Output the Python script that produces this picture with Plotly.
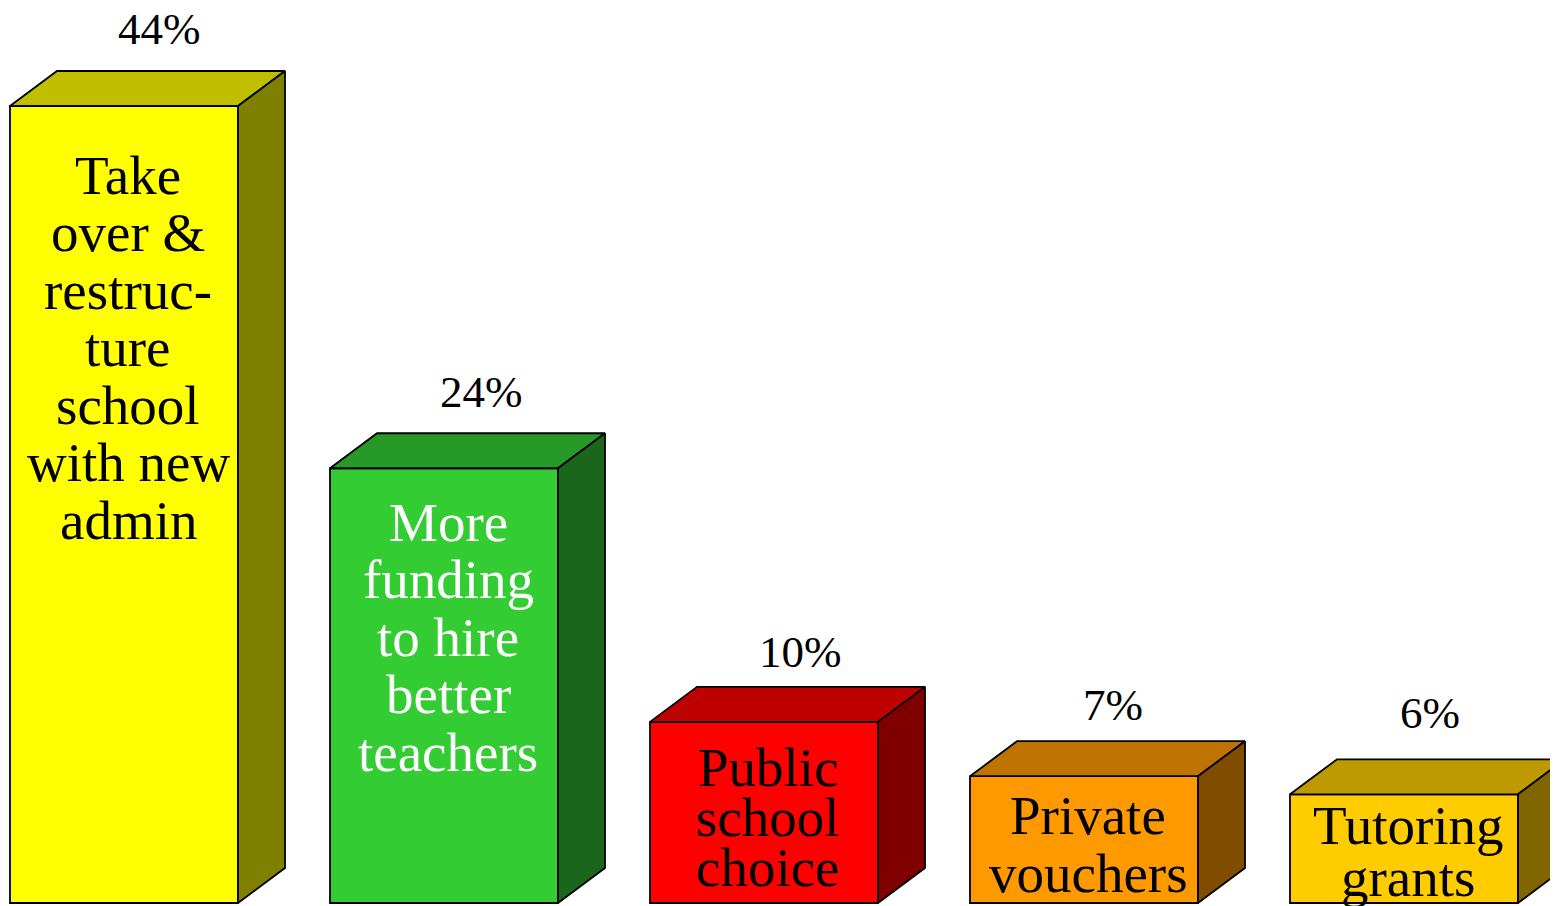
import plotly.graph_objects as go

# ---- data ----
categories = [
    "Take<br>over &<br>restruc-<br>ture<br>school<br>with new<br>admin",
    "More<br>funding<br>to hire<br>better<br>teachers",
    "Public<br>school<br>choice",
    "Private<br>vouchers",
    "Tutoring<br>grants",
]
values = [44, 24, 10, 7, 6]
value_labels = ["44%", "24%", "10%", "7%", "6%"]

# ---- style ----
front_colors = ["#FFFF00", "#33CC33", "#FF0000", "#FF9900", "#FFCC00"]
top_colors = ["#BFBF00", "#269926", "#BF0000", "#BF7300", "#BF9900"]
side_colors = ["#808000", "#1A661A", "#800000", "#804D00", "#806600"]
text_colors = ["black", "white", "black", "black", "black"]
label_gap_px = [69, 54, 46, 39, 31]        # first line centre below front top
label_step_px = [57.5, 57.5, 50, 58, 52]   # line spacing
value_dy_px = [42, 41, 35, 36, 46]
value_dx_px = [35, 37, 36, 29, 26]

PAGE_W, PAGE_H = 1558, 906
OFF = 8                   # default body margin of the html page
W, H = PAGE_W, PAGE_H - OFF
ppu = 797 / 44.0          # pixels per percent
xunit = 320.0             # pixels per category
x0_px = 124               # page pixel of first category centre
base_px = 903             # page pixel of y = 0
bar_w = 228 / xunit
dx = 47 / xunit
dy = 35 / ppu
font = "Liberation Serif, Times New Roman, serif"

xs = list(range(len(values)))
fig = go.Figure()

# front faces
fig.add_trace(go.Bar(
    x=xs, y=values, width=bar_w,
    marker=dict(color=front_colors, line=dict(color="black", width=1.8)),
    hoverinfo="skip",
))

# top and side faces
for i, v in enumerate(values):
    l, r = i - bar_w / 2, i + bar_w / 2
    fig.add_trace(go.Scatter(
        x=[l, l + dx, r + dx, r, l], y=[v, v + dy, v + dy, v, v],
        fill="toself", fillcolor=top_colors[i], mode="lines",
        line=dict(color="black", width=1.8), hoverinfo="skip",
    ))
    fig.add_trace(go.Scatter(
        x=[r, r, r + dx, r + dx, r], y=[0, v, v + dy, dy, 0],
        fill="toself", fillcolor=side_colors[i], mode="lines",
        line=dict(color="black", width=1.8), hoverinfo="skip",
    ))

annotations = []
for i, v in enumerate(values):
    annotations.append(dict(
        x=i + value_dx_px[i] / xunit, y=v + dy + value_dy_px[i] / ppu,
        text=value_labels[i], showarrow=False, xanchor="center", yanchor="middle",
        font=dict(family=font, size=45, color="black"),
    ))
    for k, line in enumerate(categories[i].split("<br>")):
        annotations.append(dict(
            x=i + 4 / xunit,
            y=v - (label_gap_px[i] + k * label_step_px[i]) / ppu,
            text=line, showarrow=False, xanchor="center", yanchor="middle",
            font=dict(family=font, size=55, color=text_colors[i]),
        ))

fig.update_layout(
    width=W, height=H,
    margin=dict(l=0, r=0, t=0, b=0),
    paper_bgcolor="white", plot_bgcolor="white",
    showlegend=False,
    xaxis=dict(range=[(OFF - x0_px) / xunit, (OFF + W - x0_px) / xunit],
               visible=False, fixedrange=True),
    yaxis=dict(range=[-(PAGE_H - base_px) / ppu, (base_px - OFF) / ppu],
               visible=False, fixedrange=True),
    annotations=annotations,
)

fig.write_html("out.html")
